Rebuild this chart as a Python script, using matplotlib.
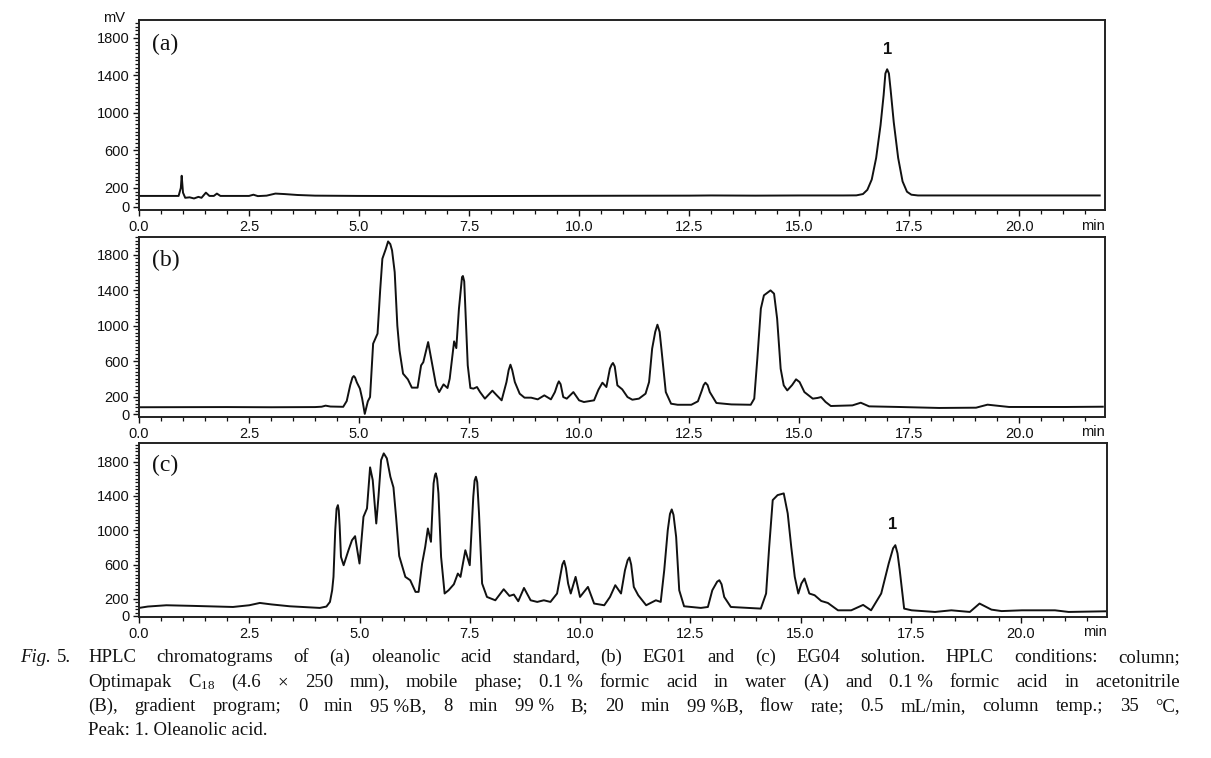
import matplotlib
matplotlib.use("Agg")
import matplotlib.pyplot as plt
from matplotlib.ticker import MultipleLocator

plt.rcParams.update({"font.family": "Liberation Sans", "mathtext.fontset": "custom",
                     "mathtext.rm": "Liberation Serif", "mathtext.it": "Liberation Serif:italic"})

# ---- data (time in min, signal in mV) ----
t_a = [0.0, 0.9, 0.95, 0.97, 1.0, 1.05, 1.15, 1.25, 1.35, 1.42, 1.52, 1.6, 1.7, 1.77, 1.85, 2.0,
       2.5, 2.6, 2.7, 2.9, 3.1, 3.3, 3.6, 4.0, 5.0, 7.0, 9.0, 11.0, 12.5, 13.0, 14.0, 15.0, 16.0,
       16.3, 16.45, 16.55, 16.65, 16.75, 16.85, 16.92, 16.96, 17.0, 17.04, 17.08, 17.15, 17.25,
       17.35, 17.45, 17.55, 17.7, 18.0, 20.0, 21.83]
v_a = [115, 115, 200, 330, 150, 95, 100, 88, 105, 95, 150, 115, 115, 140, 115, 115,
       115, 128, 113, 118, 140, 135, 125, 118, 115, 113, 115, 117, 118, 120, 118, 120, 120,
       121, 135, 180, 290, 520, 870, 1190, 1420, 1465, 1420, 1240, 900, 520,
       270, 160, 128, 120, 120, 120, 120]

t_b = [0.0, 2.0, 3.0, 4.0, 4.15, 4.24, 4.35, 4.64, 4.72, 4.8, 4.85, 4.88, 4.91, 4.95, 5.02, 5.07,
       5.13, 5.2, 5.25, 5.32, 5.42, 5.48, 5.53, 5.61, 5.66, 5.71, 5.75, 5.81, 5.87, 5.92, 6.0,
       6.11, 6.2, 6.33, 6.41, 6.46, 6.57, 6.68, 6.75, 6.82, 6.92, 7.01, 7.06, 7.16, 7.21, 7.27,
       7.34, 7.36, 7.39, 7.42, 7.47, 7.53, 7.6, 7.68, 7.75, 7.86, 8.03, 8.13, 8.24, 8.35, 8.4,
       8.44, 8.48, 8.54, 8.65, 8.76, 8.91, 9.06, 9.21, 9.36, 9.45, 9.51, 9.54, 9.58, 9.64, 9.72,
       9.87, 10.0, 10.11, 10.34, 10.44, 10.53, 10.62, 10.7, 10.74, 10.77, 10.81, 10.87, 10.98,
       11.1, 11.21, 11.36, 11.51, 11.59, 11.66, 11.73, 11.78, 11.83, 11.87, 11.97, 12.09, 12.24,
       12.55, 12.7, 12.79, 12.83, 12.87, 12.92, 12.97, 13.12, 13.46, 13.9, 13.98, 14.05, 14.13,
       14.2, 14.35, 14.43, 14.5, 14.58, 14.65, 14.73, 14.84, 14.93, 15.01, 15.12, 15.31, 15.42,
       15.5, 15.6, 15.72, 16.21, 16.4, 16.59, 17.27, 18.18, 19.02, 19.28, 19.77, 20.3, 21.06, 21.9]
v_b = [80, 82, 80, 82, 86, 98, 88, 85, 150, 330, 415, 432, 415, 360, 290, 180,
       5, 147, 195, 797, 910, 1400, 1755, 1868, 1950, 1920, 1849, 1604, 1000, 720, 459,
       394, 301, 301, 552, 588, 815, 515, 327, 251, 338, 297, 402, 823, 747, 1192,
       1548, 1560, 1500, 1153, 552, 297, 290, 308, 251, 177, 267, 214, 158, 364, 500,
       560, 500, 364, 233, 188, 188, 169, 214, 169, 251, 340, 372, 340, 195, 177,
       251, 158, 139, 158, 278, 357, 308, 515, 560, 579, 540, 327, 282,
       195, 165, 177, 233, 364, 741, 930, 1011, 930, 741, 251, 120, 108,
       108, 147, 270, 330, 357, 330, 251, 128, 112, 108, 177, 628, 1192,
       1342, 1398, 1361, 1079, 515, 327, 270, 330, 395, 364, 251, 177, 185,
       195, 140, 94, 101, 131, 90, 83, 72, 75, 109, 83, 83, 83, 86]

t_c = [0.0, 0.2, 0.62, 1.2, 2.13, 2.5, 2.74, 3.0, 3.42, 4.1, 4.25, 4.33, 4.38, 4.41, 4.45, 4.48,
       4.51, 4.53, 4.55, 4.58, 4.64, 4.75, 4.83, 4.9, 4.95, 5.0, 5.09, 5.17, 5.24, 5.3, 5.38,
       5.43, 5.49, 5.55, 5.62, 5.7, 5.77, 5.83, 5.9, 6.04, 6.15, 6.27, 6.34, 6.42, 6.49, 6.55,
       6.62, 6.68, 6.71, 6.73, 6.76, 6.79, 6.85, 6.93, 7.02, 7.14, 7.23, 7.29, 7.4, 7.5, 7.58,
       7.61, 7.64, 7.67, 7.71, 7.78, 7.89, 8.08, 8.27, 8.4, 8.5, 8.6, 8.73, 8.88, 9.03, 9.18,
       9.33, 9.48, 9.6, 9.64, 9.68, 9.73, 9.79, 9.9, 10.0, 10.18, 10.32, 10.55, 10.68, 10.8,
       10.93, 11.02, 11.08, 11.12, 11.16, 11.22, 11.32, 11.5, 11.72, 11.83, 11.91, 11.99, 12.04,
       12.08, 12.12, 12.18, 12.25, 12.36, 12.74, 12.9, 13.0, 13.11, 13.16, 13.21, 13.27, 13.42,
       14.1, 14.22, 14.29, 14.37, 14.48, 14.62, 14.71, 14.79, 14.87, 14.95, 15.02, 15.09, 15.2,
       15.32, 15.47, 15.62, 15.85, 16.15, 16.42, 16.6, 16.83, 17.0, 17.1, 17.15, 17.2, 17.25,
       17.35, 17.52, 18.05, 18.42, 18.84, 19.06, 19.33, 19.56, 20.02, 20.77, 21.08, 21.97]
v_c = [94, 110, 125, 118, 105, 125, 152, 135, 113, 94, 110, 164, 300, 456, 1001, 1250,
       1293, 1230, 1050, 689, 592, 767, 884, 931, 767, 612, 1157, 1255, 1734, 1585, 1079,
       1390, 1819, 1897, 1839, 1624, 1500, 1150, 700, 456, 417, 281, 281, 612, 806, 1021,
       865, 1547, 1640, 1664, 1600, 1430, 689, 262, 300, 370, 495, 456, 767, 592, 1390,
       1580, 1624, 1560, 1196, 379, 222, 183, 312, 234, 250, 172, 327, 183, 164, 183,
       164, 262, 600, 643, 560, 379, 262, 456, 222, 339, 145, 125, 222, 359,
       262, 534, 650, 682, 600, 339, 242, 125, 183, 164, 534, 1001, 1190,
       1243, 1180, 923, 300, 113, 94, 105, 300, 400, 417, 370, 222, 105,
       86, 262, 806, 1352, 1410, 1430, 1196, 806, 456, 262, 379, 437, 262,
       242, 175, 152, 66, 66, 129, 66, 262, 612, 790, 826, 730, 534,
       86, 66, 47, 66, 47, 145, 74, 57, 66, 66, 47, 55]

panel_labels = ["(a)", "(b)", "(c)"]
x_ticks = [0.0, 2.5, 5.0, 7.5, 10.0, 12.5, 15.0, 17.5, 20.0]
y_ticks = [0, 200, 600, 1000, 1400, 1800]
peak_marks = {0: (17.0, 1672), 2: (17.08, 1068)}   # panel -> (time, label height)

caption = [
    ["HPLC", "chromatograms", "of", "(a)", "oleanolic", "acid", "standard,", "(b)", "EG01", "and",
     "(c)", "EG04", "solution.", "HPLC", "conditions:", "column;"],
    ["Optimapak", "C$_{18}$", "(4.6", "\u00d7", "250", "mm),", "mobile", "phase;", "0.1 %", "formic",
     "acid", "in", "water", "(A)", "and", "0.1 %", "formic", "acid", "in", "acetonitrile"],
    ["(B),", "gradient", "program;", "0", "min", "95 %B,", "8", "min", "99 %", "B;", "20", "min",
     "99 %B,", "flow", "rate;", "0.5", "mL/min,", "column", "temp.;", "35", "\u00b0C,"],
]
caption_last = "Peak: 1. Oleanolic acid."

# ---- layout (pixel boxes of the three panels in a 1211 x 758 figure) ----
W, H = 1211, 758
boxes = [(139, 20, 1105, 210), (139, 237, 1105, 417), (139, 443, 1107, 617)]
ylims = [(-35, 1990), (-30, 2000), (-12, 2018)]
INK = "#111111"

fig = plt.figure(figsize=(W / 100, H / 100), dpi=100)
series = [(t_a, v_a), (t_b, v_b), (t_c, v_c)]
for i, ((x0, y0, x1, y1), (t, v)) in enumerate(zip(boxes, series)):
    ax = fig.add_axes([x0 / W, 1 - y1 / H, (x1 - x0) / W, (y1 - y0) / H])
    ax.plot(t, v, color=INK, lw=1.4, solid_joinstyle="round")
    ax.set_xlim(0, 21.95)
    ax.set_ylim(*ylims[i])
    ax.set_xticks(x_ticks, [f"{x:.1f}" for x in x_ticks])
    ax.set_yticks(y_ticks, [str(y) for y in y_ticks])
    ax.xaxis.set_minor_locator(MultipleLocator(0.5))
    ax.yaxis.set_minor_locator(MultipleLocator(40))
    ax.tick_params(which="major", direction="out", length=4, width=1.0, labelsize=10.5,
                   colors=INK, pad=3)
    ax.tick_params(which="minor", direction="out", length=3, width=0.9, colors=INK)
    for s in ax.spines.values():
        s.set_linewidth(1.4); s.set_color("#222222")
    ax.text(0.013, 0.87, panel_labels[i], transform=ax.transAxes, ha="left", va="center",
            fontsize=17, family="Liberation Serif", color=INK)
    ax.text(1.0, -0.045, "min", transform=ax.transAxes, ha="right", va="top", fontsize=10.5,
            color=INK)
    if i in peak_marks:
        px, py = peak_marks[i]
        ax.text(px, py, "1", ha="center", va="center", fontsize=12, fontweight="bold", color=INK)

fig.text(125 / W, 1 - 18 / H, "mV", ha="right", va="center", fontsize=10.5, color=INK)

# ---- caption, justified like the journal page ----
r = fig.canvas.get_renderer()
CF = dict(fontsize=13.5, family="Liberation Serif", color=INK, va="baseline", ha="left")


def justify(words, base, xa, xb):
    ts = [fig.text(0, 1 - base / H, w, **CF) for w in words]
    ws = [tt.get_window_extent(r).width for tt in ts]
    gap = (xb - xa - sum(ws)) / (len(ws) - 1)
    x = xa
    for tt, w in zip(ts, ws):
        tt.set_x(x / W); x += w + gap


fig.text(20 / W, 1 - 662 / H, "Fig.", style="italic", **CF)
fig.text(57 / W, 1 - 662 / H, "5.", **CF)
bases = [662, 687, 711]
for words, b in zip(caption, bases):
    justify(words, b, 88, 1180)
fig.text(88 / W, 1 - 735 / H, caption_last, **CF)

fig.savefig("out.png", dpi=100, facecolor="white")
